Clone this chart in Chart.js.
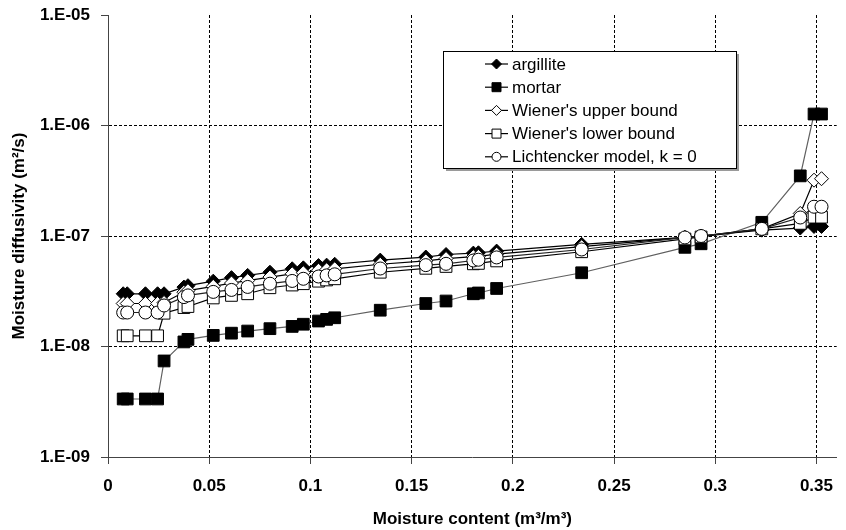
<!DOCTYPE html>
<html>
<head>
<meta charset="utf-8">
<script src="https://cdn.jsdelivr.net/npm/chart.js@4.4.0/dist/chart.umd.min.js"></script>
<style>
html, body { margin: 0; padding: 0; background: #fff; }
</style>
</head>
<body>
<canvas id="chart" width="846" height="530"></canvas>
<script>
// Data
const moisture = [0.0075, 0.0095, 0.0185, 0.0245, 0.0277, 0.0375, 0.0395, 0.052, 0.061, 0.069,
	0.080, 0.091, 0.0965, 0.104, 0.108, 0.112, 0.1345, 0.157, 0.167, 0.1805,
	0.183, 0.192, 0.234, 0.285, 0.293, 0.323, 0.342, 0.3488, 0.3525];

const argillite = [3.0e-8, 3.0e-8, 3.0e-8, 3.0e-8, 3.0e-8, 3.45e-8, 3.55e-8, 3.9e-8, 4.2e-8, 4.4e-8,
	4.7e-8, 5.05e-8, 5.15e-8, 5.4e-8, 5.45e-8, 5.55e-8, 6.05e-8, 6.45e-8, 6.8e-8, 7.0e-8,
	7.05e-8, 7.3e-8, 8.4e-8, 9.7e-8, 1.0e-7, 1.13e-7, 1.18e-7, 1.22e-7, 1.22e-7];

const mortar = [3.35e-9, 3.35e-9, 3.35e-9, 3.35e-9, 7.4e-9, 1.1e-8, 1.16e-8, 1.26e-8, 1.32e-8, 1.38e-8,
	1.45e-8, 1.52e-8, 1.59e-8, 1.70e-8, 1.76e-8, 1.82e-8, 2.13e-8, 2.45e-8, 2.58e-8, 3.0e-8,
	3.05e-8, 3.35e-8, 4.65e-8, 7.9e-8, 8.5e-8, 1.33e-7, 3.5e-7, 1.27e-6, 1.27e-6];

const wienerUpper = [2.45e-8, 2.45e-8, 2.45e-8, 2.45e-8, 2.5e-8, 3.1e-8, 3.2e-8, 3.5e-8, 3.75e-8, 3.95e-8,
	4.25e-8, 4.55e-8, 4.65e-8, 4.9e-8, 4.95e-8, 5.05e-8, 5.55e-8, 5.95e-8, 6.25e-8, 6.5e-8,
	6.55e-8, 6.85e-8, 8.0e-8, 9.7e-8, 1.0e-7, 1.16e-7, 1.6e-7, 3.2e-7, 3.3e-7];

const wienerLower = [1.25e-8, 1.25e-8, 1.25e-8, 1.25e-8, 2.0e-8, 2.25e-8, 2.3e-8, 2.75e-8, 2.9e-8, 3.0e-8,
	3.4e-8, 3.6e-8, 3.7e-8, 3.9e-8, 4.0e-8, 4.1e-8, 4.7e-8, 5.1e-8, 5.3e-8, 5.6e-8,
	5.65e-8, 5.95e-8, 7.2e-8, 9.4e-8, 9.8e-8, 1.16e-7, 1.3e-7, 1.48e-7, 1.48e-7];

const lichtenecker = [2.03e-8, 2.03e-8, 2.03e-8, 2.03e-8, 2.35e-8, 2.8e-8, 2.9e-8, 3.12e-8, 3.25e-8, 3.46e-8,
	3.7e-8, 3.92e-8, 4.1e-8, 4.3e-8, 4.4e-8, 4.5e-8, 5.08e-8, 5.45e-8, 5.6e-8, 6.0e-8,
	6.1e-8, 6.4e-8, 7.55e-8, 9.7e-8, 1.0e-7, 1.16e-7, 1.47e-7, 1.84e-7, 1.84e-7];

const seriesNames = ['argillite', 'mortar', "Wiener's upper bound", "Wiener's lower bound", 'Lichtencker model, k = 0'];

const xTicks = [0, 0.05, 0.1, 0.15, 0.2, 0.25, 0.3, 0.35];
const xTickLabels = ['0', '0.05', '0.1', '0.15', '0.2', '0.25', '0.3', '0.35'];
const yTicks = [1e-9, 1e-8, 1e-7, 1e-6, 1e-5];
const yTickLabels = ['1.E-09', '1.E-08', '1.E-07', '1.E-06', '1.E-05'];

const FONT = "'Liberation Sans', Arial, sans-serif";

function toPoints(values) {
	return moisture.map((x, i) => ({ x: x, y: values[i] }));
}

function makeSet(label, values, style, radius, fill, lineColor, order) {
	return {
		label: label,
		data: toPoints(values),
		borderColor: lineColor,
		borderWidth: 1.2,
		tension: 0,
		pointStyle: style,
		pointRadius: radius,
		pointBackgroundColor: fill,
		pointBorderColor: '#000',
		pointBorderWidth: 1,
		order: order
	};
}

/**
 * Draw a small marker for the legend box
 */
function drawMarker(ctx, style, x, y, r, fill) {
	ctx.beginPath();
	if (style === 'rectRot') {
		ctx.moveTo(x, y - r);
		ctx.lineTo(x + r, y);
		ctx.lineTo(x, y + r);
		ctx.lineTo(x - r, y);
		ctx.closePath();
	} else if (style === 'rect') {
		ctx.rect(x - r, y - r, 2 * r, 2 * r);
	} else {
		ctx.arc(x, y, r, 0, Math.PI * 2);
	}
	ctx.fillStyle = fill;
	ctx.fill();
	ctx.lineWidth = 1;
	ctx.strokeStyle = '#000';
	ctx.stroke();
}

// legend box drawn inside the plot, with a drop shadow
const boxLegend = {
	id: 'boxLegend',
	afterDraw(chart) {
		const ctx = chart.ctx;
		const bx = 443, by = 51, bw = 293, bh = 117;
		ctx.save();
		ctx.fillStyle = '#9a9a9a';
		ctx.fillRect(bx + 3, by + 3, bw, bh);
		ctx.fillStyle = '#fff';
		ctx.fillRect(bx, by, bw, bh);
		ctx.strokeStyle = '#000';
		ctx.lineWidth = 1;
		ctx.strokeRect(bx + 0.5, by + 0.5, bw, bh);

		const legendMarks = [
			['rectRot', 5, '#000'],
			['rect', 4.5, '#000'],
			['rectRot', 5, '#fff'],
			['rect', 4.5, '#fff'],
			['circle', 4.5, '#fff']
		];
		ctx.font = '17px ' + FONT;
		ctx.textBaseline = 'middle';
		ctx.textAlign = 'left';
		seriesNames.forEach((name, i) => {
			const y = 64 + i * 23.2;
			ctx.beginPath();
			ctx.moveTo(485, y);
			ctx.lineTo(508, y);
			ctx.strokeStyle = '#000';
			ctx.lineWidth = 1.2;
			ctx.stroke();
			drawMarker(ctx, legendMarks[i][0], 496.5, y, legendMarks[i][1], legendMarks[i][2]);
			ctx.fillStyle = '#000';
			ctx.fillText(name, 512, y + 1);
		});
		ctx.restore();
	}
};

function initChart() {
	const ctx = document.getElementById('chart').getContext('2d');

	const chartConfig = {
		type: 'line',
		data: {
			datasets: [
				makeSet(seriesNames[0], argillite, 'rectRot', 7, '#000', '#000', 5),
				makeSet(seriesNames[1], mortar, 'rect', 8.3, '#000', '#606060', 4),
				makeSet(seriesNames[2], wienerUpper, 'rectRot', 7, '#fff', '#000', 3),
				makeSet(seriesNames[3], wienerLower, 'rect', 8.3, '#fff', '#000', 2),
				makeSet(seriesNames[4], lichtenecker, 'circle', 6.5, '#fff', '#222', 1)
			]
		},
		options: {
			responsive: false,
			animation: false,
			layout: {
				padding: { top: 15, right: 5, left: 0, bottom: 0 }
			},
			scales: {
				x: {
					type: 'linear',
					min: 0,
					max: 0.36,
					afterFit: (scale) => {
						scale.height = 73;
						scale.paddingLeft = 0;
						scale.paddingRight = 0;
					},
					afterBuildTicks: (scale) => { scale.ticks = xTicks.map(v => ({ value: v })); },
					ticks: {
						padding: 12,
						color: '#000',
						font: { family: FONT, size: 17, weight: 'bold' },
						callback: (v, i) => xTickLabels[i]
					},
					grid: {
						color: (c) => c.index === 0 ? 'rgba(0,0,0,0)' : '#000',
						lineWidth: 1,
						tickLength: 7,
						tickColor: '#444',
						tickBorderDash: []
					},
					border: { display: true, color: '#444', width: 1, dash: [3, 2] },
					title: {
						display: true,
						text: 'Moisture content (m³/m³)',
						color: '#000',
						font: { family: FONT, size: 17, weight: 'bold' },
						padding: { top: 4, bottom: 0 }
					}
				},
				y: {
					type: 'logarithmic',
					min: 1e-9,
					max: 1e-5,
					afterFit: (scale) => {
						scale.width = 108;
						scale.paddingTop = 0;
						scale.paddingBottom = 0;
					},
					afterBuildTicks: (scale) => { scale.ticks = yTicks.map(v => ({ value: v })); },
					ticks: {
						padding: 11,
						color: '#000',
						font: { family: FONT, size: 17, weight: 'bold' },
						callback: (v, i) => yTickLabels[i]
					},
					grid: {
						color: (c) => (c.index === 0 || c.index === yTicks.length - 1) ? 'rgba(0,0,0,0)' : '#000',
						lineWidth: 1,
						tickLength: 7,
						tickColor: '#444',
						tickBorderDash: []
					},
					border: { display: true, color: '#444', width: 1, dash: [3, 2] },
					title: {
						display: true,
						text: 'Moisture diffusivity (m²/s)',
						color: '#000',
						font: { family: FONT, size: 17, weight: 'bold' },
						padding: { top: 9, bottom: 0 }
					}
				}
			},
			plugins: {
				legend: { display: false },
				tooltip: { enabled: false }
			}
		},
		plugins: [boxLegend]
	};

	new Chart(ctx, chartConfig);
}

document.addEventListener('DOMContentLoaded', initChart);
</script>
</body>
</html>
